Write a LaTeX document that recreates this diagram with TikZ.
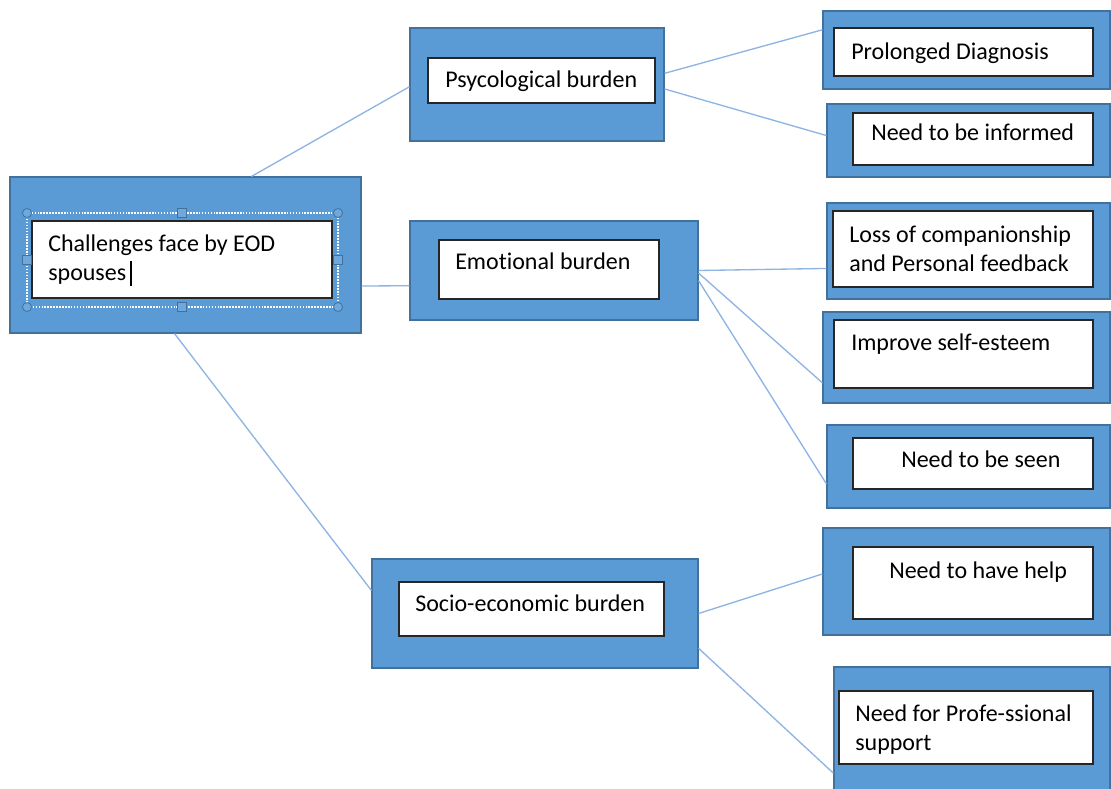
\documentclass[tikz,border=0pt]{standalone}
\usepackage{fontspec}
\setmainfont{Carlito}[Ligatures=CommonOff]
\usetikzlibrary{fit}
\definecolor{boxblue}{HTML}{5B9BD5}
\definecolor{boxedge}{HTML}{41719C}
\definecolor{linkblue}{HTML}{8EB4E3}
\definecolor{handlefill}{HTML}{6FA8DC}
\begin{document}
\begin{tikzpicture}[x=0.75pt,y=-0.75pt,
  outerbox/.style={draw=boxedge, fill=boxblue, line width=0.8pt, inner sep=0pt},
  innerbox/.style={draw=black!85, fill=white, line width=1pt, inner sep=0pt},
  lbl/.style={inner sep=0pt, anchor=base west, font=\fontsize{18}{21.75}\selectfont, align=left, text=black},
  link/.style={draw=linkblue, line width=1pt},
  handle/.style={draw=boxedge, fill=handlefill, line width=0.6pt}]
\clip (0,0) rectangle (1111,789);
\fill[white] (0,0) rectangle (1111,789);

% outer boxes
\node[outerbox, fit={(10,177)(361,333)}] (root) {};
\node[outerbox, fit={(410,28)(664,141)}] (psy) {};
\node[outerbox, fit={(410,221)(698,320)}] (emo) {};
\node[outerbox, fit={(372,559)(698,668)}] (soc) {};
\node[outerbox, fit={(823,11)(1110,89)}] (pro) {};
\node[outerbox, fit={(827,104)(1110,177)}] (inf) {};
\node[outerbox, fit={(827,203)(1110,299)}] (loss) {};
\node[outerbox, fit={(823,312)(1110,403)}] (imp) {};
\node[outerbox, fit={(827,425)(1110,508)}] (seen) {};
\node[outerbox, fit={(823,528)(1110,635)}] (help) {};
\node[outerbox, fit={(834,667)(1110,800)}] (prof) {};

% inner boxes
\node[innerbox, fit={(32,221)(332,298)}] (rooti) {};
\node[innerbox, fit={(428,58)(655,103)}] (psyi) {};
\node[innerbox, fit={(439,240)(659,299)}] (emoi) {};
\node[innerbox, fit={(399,582)(664,636)}] (soci) {};
\node[innerbox, fit={(834,28)(1093,76)}] (proi) {};
\node[innerbox, fit={(853,113)(1093,165)}] (infi) {};
\node[innerbox, fit={(833,211)(1093,287)}] (lossi) {};
\node[innerbox, fit={(834,320)(1093,388)}] (impi) {};
\node[innerbox, fit={(853,438)(1093,489)}] (seeni) {};
\node[innerbox, fit={(853,547)(1093,619)}] (helpi) {};
\node[innerbox, fit={(839,691)(1093,764)}] (profi) {};

% selection frame on root
\draw[white, densely dotted, line width=1.2pt] (27,213) rectangle (338,307);
\foreach \p in {(27,213),(338,213),(27,307),(338,307)}
  \draw[handle] \p circle (4.5);
\foreach \p in {(182,213),(182,307),(27,260),(338,260)}
  \draw[handle] \p ++(-4.5,-4.5) rectangle ++(9,9);

% labels (multi-line labels anchored at the baseline of their last line)
\node[lbl] (troot) at (48,280) {Challenges face by EOD\\spouses};
\draw[black, line width=1.6pt] (131,261) -- (131,286);
\node[lbl] (tpsy) at (445,87) {Psycological burden};
\node[lbl] (temo) at (455,269) {Emotional burden};
\node[lbl] (tsoc) at (415,611) {Socio-economic burden};
\node[lbl] (tpro) at (851,59) {Prolonged Diagnosis};
\node[lbl] (tinf) at (871,140) {Need to be informed};
\node[lbl] (tloss) at (849,271) {Loss of companionship\\and Personal feedback};
\node[lbl] (timp) at (851,350) {Improve self-esteem};
\node[lbl] (tseen) at (901,467) {Need to be seen};
\node[lbl] (thelp) at (889,578) {Need to have help};
\node[lbl] (tprof) at (855,750) {Need for Profe-ssional\\support};

% connectors
\draw[link] (root.50.4) -- (psy.181.6);
\draw[link] (root.-10.3) -- (emo.186.5);
\draw[link] (root.262.3) -- (soc.172.8);
\draw[link] (psy.5.6) -- (pro.172.5);
\draw[link] (psy.-2.5) -- (inf.178.6);
\draw[link] (emo.0) -- (loss.187.6);
\draw[link] (emo.-1.8) -- (imp.190.8);
\draw[link] (emo.-4.6) -- (seen.187.4);
\draw[link] (soc.-0.5) -- (help.177.4);
\draw[link] (soc.-12) -- (prof.196.7);
\end{tikzpicture}
\end{document}
